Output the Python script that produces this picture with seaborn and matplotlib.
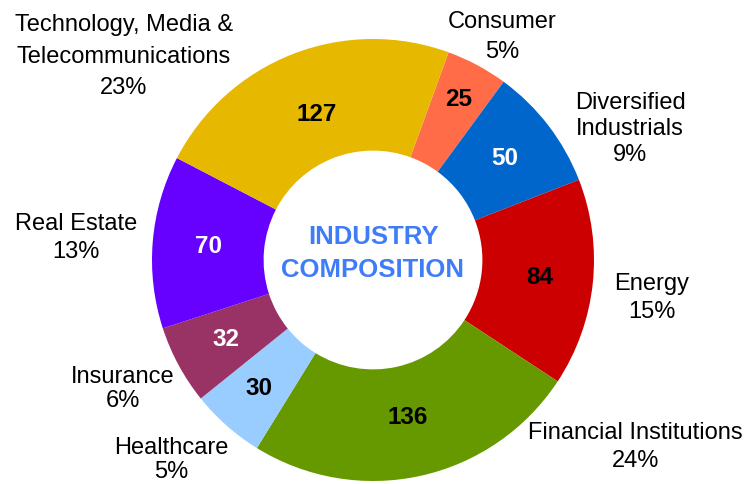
import numpy as np
import matplotlib
matplotlib.use("Agg")
import matplotlib.pyplot as plt
import seaborn as sns

# Data (clockwise from the top)
industries = ["Consumer", "Diversified\nIndustrials", "Energy", "Financial Institutions",
              "Healthcare", "Insurance", "Real Estate", "Technology, Media &\nTelecommunications"]
counts = [25, 50, 84, 136, 30, 32, 70, 127]
pct_labels = ["5%", "9%", "15%", "24%", "5%", "6%", "13%", "23%"]

colors = ["#FF6C47", "#0066CC", "#CC0000", "#669900", "#99CCFF", "#993366", "#6600FF", "#E6B800"]
value_colors = ["black", "white", "black", "black", "black", "white", "white", "black"]

# where the outer labels sit (axes data units, radius of the ring = 1)
label_pos = [(0.584, 1.010), (1.163, 0.593), (1.262, -0.172), (1.186, -0.846),
             (-0.914, -0.905), (-1.131, -0.584), (-1.344, 0.100), (-1.127, 0.920)]
label_spacing = [1.45, 1.23, 1.32, 1.36, 1.09, 1.09, 1.36, 1.55]
# distance of the value labels from the centre
value_radius = [0.826, 0.753, 0.76, 0.732, 0.778, 0.757, 0.746, 0.706]

sns.set_theme(style="white")
plt.rcParams["font.family"] = ["Liberation Sans", "DejaVu Sans"]

fig = plt.figure(figsize=(7.45, 4.84), dpi=100)
ax = fig.add_axes([152 / 745, 3 / 484, 442 / 745, 442 / 484])

wedges, _ = ax.pie(counts, colors=colors, startangle=70, counterclock=False,
                   radius=1.0, wedgeprops=dict(width=0.505, linewidth=0))

for w, n, c, r in zip(wedges, counts, value_colors, value_radius):
    ang = np.deg2rad((w.theta1 + w.theta2) / 2)
    ax.text(r * np.cos(ang), r * np.sin(ang), str(n), ha="center", va="center",
            fontsize=17.5, fontweight="bold", color=c)

for name, pct, (x, y), ls in zip(industries, pct_labels, label_pos, label_spacing):
    ax.text(x, y, f"{name}\n{pct}", ha="center", va="center", fontsize=17,
            color="black", linespacing=ls, multialignment="center", clip_on=False)

ax.text(0, 0.03, "INDUSTRY\nCOMPOSITION", ha="center", va="center", fontsize=18.5,
        fontweight="bold", color="#3F7DF8", linespacing=1.5)

ax.set_xlim(-1, 1)
ax.set_ylim(-1, 1)
ax.set_aspect("equal")
ax.axis("off")

fig.savefig("out.png", dpi=100, facecolor="white")
